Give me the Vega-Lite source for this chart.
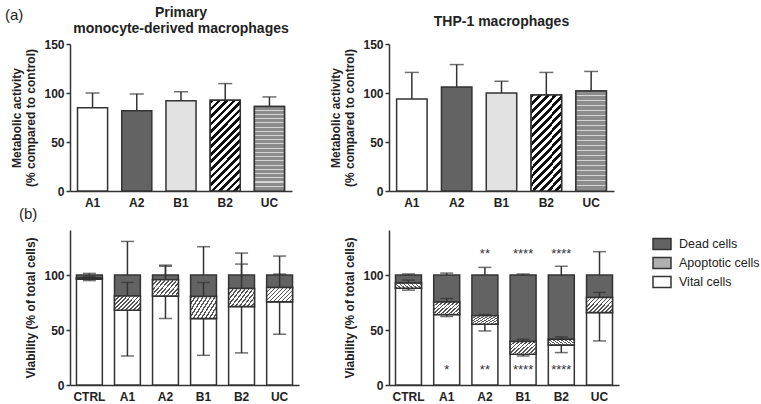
{
  "$schema": "https://vega.github.io/schema/vega-lite/v6.json",
  "padding": {"left": 4, "top": 6, "right": 5, "bottom": 2},
  "background": "white",
  "config": {
    "font": "Liberation Sans",
    "view": {"stroke": null},
    "axis": {"domainColor": "#333", "domainWidth": 1.5, "tickColor": "#333", "tickWidth": 1.5, "labelFont": "Liberation Sans", "labelFontWeight": "bold", "labelFontSize": 12, "labelColor": "#222", "titleFont": "Liberation Sans", "titleFontWeight": "bold", "titleFontSize": 12, "titleColor": "#222", "grid": false},
    "axisX": {"ticks": false, "labelPadding": 6, "labelAngle": 0, "title": null},
    "axisY": {"tickSize": 4, "labelPadding": 2, "titlePadding": 6},
    "title": {"font": "Liberation Sans", "fontSize": 14, "fontWeight": "bold", "color": "#222"},
    "legend": {"symbolStrokeColor": "#333", "symbolStrokeWidth": 1.5}
  },
  "datasets": {
    "top": [
      {"panel": "primary", "cond": "A1", "value": 85, "err": 100},
      {"panel": "primary", "cond": "A2", "value": 82, "err": 99},
      {"panel": "primary", "cond": "B1", "value": 92, "err": 101.3},
      {"panel": "primary", "cond": "B2", "value": 92.5, "err": 109.6},
      {"panel": "primary", "cond": "UC", "value": 86.3, "err": 96},
      {"panel": "thp1", "cond": "A1", "value": 94, "err": 121},
      {"panel": "thp1", "cond": "A2", "value": 106, "err": 129},
      {"panel": "thp1", "cond": "B1", "value": 100, "err": 112},
      {"panel": "thp1", "cond": "B2", "value": 98, "err": 121},
      {"panel": "thp1", "cond": "UC", "value": 102, "err": 122}
    ],
    "bottom": [
      {"panel": "primary", "cond": "CTRL", "type": "Vital cells", "lo": 0, "hi": 96.3, "err": 95},
      {"panel": "primary", "cond": "CTRL", "type": "Apoptotic cells", "lo": 96.3, "hi": 97.3, "err": 98.5},
      {"panel": "primary", "cond": "CTRL", "type": "Dead cells", "lo": 97.3, "hi": 100, "err": 101.5},
      {"panel": "primary", "cond": "A1", "type": "Vital cells", "lo": 0, "hi": 68, "err": 26.4},
      {"panel": "primary", "cond": "A1", "type": "Apoptotic cells", "lo": 68, "hi": 81, "err": 93.3},
      {"panel": "primary", "cond": "A1", "type": "Dead cells", "lo": 81, "hi": 100, "err": 130.6},
      {"panel": "primary", "cond": "A2", "type": "Vital cells", "lo": 0, "hi": 81, "err": 60.5},
      {"panel": "primary", "cond": "A2", "type": "Apoptotic cells", "lo": 81, "hi": 95.7, "err": 108},
      {"panel": "primary", "cond": "A2", "type": "Dead cells", "lo": 95.7, "hi": 100, "err": 109},
      {"panel": "primary", "cond": "B1", "type": "Vital cells", "lo": 0, "hi": 60.5, "err": 27},
      {"panel": "primary", "cond": "B1", "type": "Apoptotic cells", "lo": 60.5, "hi": 80.5, "err": 93.3},
      {"panel": "primary", "cond": "B1", "type": "Dead cells", "lo": 80.5, "hi": 100, "err": 125.8},
      {"panel": "primary", "cond": "B2", "type": "Vital cells", "lo": 0, "hi": 71.4, "err": 29.2},
      {"panel": "primary", "cond": "B2", "type": "Apoptotic cells", "lo": 71.4, "hi": 87.8, "err": 110},
      {"panel": "primary", "cond": "B2", "type": "Dead cells", "lo": 87.8, "hi": 100, "err": 120},
      {"panel": "primary", "cond": "UC", "type": "Vital cells", "lo": 0, "hi": 75.7, "err": 46.2},
      {"panel": "primary", "cond": "UC", "type": "Apoptotic cells", "lo": 75.7, "hi": 88.7, "err": 100.9},
      {"panel": "primary", "cond": "UC", "type": "Dead cells", "lo": 88.7, "hi": 100, "err": 117.3},
      {"panel": "thp1", "cond": "CTRL", "type": "Vital cells", "lo": 0, "hi": 88.1, "err": 86.3},
      {"panel": "thp1", "cond": "CTRL", "type": "Apoptotic cells", "lo": 88.1, "hi": 92.7, "err": 95.4},
      {"panel": "thp1", "cond": "CTRL", "type": "Dead cells", "lo": 92.7, "hi": 100, "err": 101},
      {"panel": "thp1", "cond": "A1", "type": "Vital cells", "lo": 0, "hi": 64.1, "err": 62.3},
      {"panel": "thp1", "cond": "A1", "type": "Apoptotic cells", "lo": 64.1, "hi": 75.4, "err": 78.7},
      {"panel": "thp1", "cond": "A1", "type": "Dead cells", "lo": 75.4, "hi": 100, "err": 101.8},
      {"panel": "thp1", "cond": "A2", "type": "Vital cells", "lo": 0, "hi": 55.3, "err": 49.2},
      {"panel": "thp1", "cond": "A2", "type": "Apoptotic cells", "lo": 55.3, "hi": 62.9, "err": 64.1},
      {"panel": "thp1", "cond": "A2", "type": "Dead cells", "lo": 62.9, "hi": 100, "err": 107},
      {"panel": "thp1", "cond": "B1", "type": "Vital cells", "lo": 0, "hi": 28, "err": 26.4},
      {"panel": "thp1", "cond": "B1", "type": "Apoptotic cells", "lo": 28, "hi": 39.5, "err": 41.6},
      {"panel": "thp1", "cond": "B1", "type": "Dead cells", "lo": 39.5, "hi": 100, "err": 101},
      {"panel": "thp1", "cond": "B2", "type": "Vital cells", "lo": 0, "hi": 36.5, "err": 29.5},
      {"panel": "thp1", "cond": "B2", "type": "Apoptotic cells", "lo": 36.5, "hi": 41.6, "err": 43.8},
      {"panel": "thp1", "cond": "B2", "type": "Dead cells", "lo": 41.6, "hi": 100, "err": 108},
      {"panel": "thp1", "cond": "UC", "type": "Vital cells", "lo": 0, "hi": 66, "err": 40.1},
      {"panel": "thp1", "cond": "UC", "type": "Apoptotic cells", "lo": 66, "hi": 79.6, "err": 84.2},
      {"panel": "thp1", "cond": "UC", "type": "Dead cells", "lo": 79.6, "hi": 100, "err": 121.3}
    ],
    "stars": [
      {"cond": "A1", "pos": "below", "label": "*"},
      {"cond": "A2", "pos": "above", "label": "**"},
      {"cond": "A2", "pos": "below", "label": "**"},
      {"cond": "B1", "pos": "above", "label": "****"},
      {"cond": "B1", "pos": "below", "label": "****"},
      {"cond": "B2", "pos": "above", "label": "****"},
      {"cond": "B2", "pos": "below", "label": "****"}
    ]
  },
  "title": {"text": "(a)", "anchor": "start", "frame": "bounds", "fontSize": 15, "fontWeight": "normal", "offset": -17, "dx": -6},
  "columns": 2,
  "bounds": "flush",
  "spacing": {"row": 39, "column": 90},
  "resolve": {"scale": {"fill": "independent", "x": "independent", "y": "independent"}, "axis": {"x": "independent", "y": "independent"}, "legend": {"fill": "independent"}},
  "concat": [
    {
      "width": 222, "height": 147,
      "title": {"text": ["Primary", "monocyte-derived macrophages"], "offset": 2, "frame": "group"},
      "data": {"name": "top"},
      "transform": [{"filter": "datum.panel === 'primary'"}],
      "encoding": {
        "x": {"field": "cond", "type": "nominal", "sort": ["A1", "A2", "B1", "B2", "UC"], "scale": {"paddingInner": 0.32, "paddingOuter": 0.17}, "axis": {"title": null}},
        "y": {"field": "value", "type": "quantitative", "scale": {"domain": [0, 150], "nice": false}, "axis": {"values": [0, 50, 100, 150], "title": ["Metabolic activity", "(% compared to control)"]}}
      },
      "layer": [
        {"mark": {"type": "bar", "stroke": "#333", "strokeWidth": 1.5},
         "encoding": {"fill": {"field": "cond", "type": "nominal", "legend": null, "scale": {"domain": ["A1", "A2", "B1", "B2", "UC"], "range": ["#ffffff", "#636363", "#e2e2e2", "#ffffff", "#ffffff"]}}}},
        {"transform": [{"filter": "datum.cond === 'B2'"}],
         "mark": {"type": "bar", "stroke": "#333", "strokeWidth": 1.5,
           "fill": {"gradient": "linear", "x1": 0, "y1": 0, "x2": 0.4, "y2": 1.2, "stops": [
               {"offset": 0, "color": "#111"}, {"offset": 0.03125, "color": "#111"}, {"offset": 0.03125, "color": "#fff"}, {"offset": 0.0625, "color": "#fff"},
               {"offset": 0.0625, "color": "#111"}, {"offset": 0.09375, "color": "#111"}, {"offset": 0.09375, "color": "#fff"}, {"offset": 0.125, "color": "#fff"},
               {"offset": 0.125, "color": "#111"}, {"offset": 0.15625, "color": "#111"}, {"offset": 0.15625, "color": "#fff"}, {"offset": 0.1875, "color": "#fff"},
               {"offset": 0.1875, "color": "#111"}, {"offset": 0.21875, "color": "#111"}, {"offset": 0.21875, "color": "#fff"}, {"offset": 0.25, "color": "#fff"},
               {"offset": 0.25, "color": "#111"}, {"offset": 0.28125, "color": "#111"}, {"offset": 0.28125, "color": "#fff"}, {"offset": 0.3125, "color": "#fff"},
               {"offset": 0.3125, "color": "#111"}, {"offset": 0.34375, "color": "#111"}, {"offset": 0.34375, "color": "#fff"}, {"offset": 0.375, "color": "#fff"},
               {"offset": 0.375, "color": "#111"}, {"offset": 0.40625, "color": "#111"}, {"offset": 0.40625, "color": "#fff"}, {"offset": 0.4375, "color": "#fff"},
               {"offset": 0.4375, "color": "#111"}, {"offset": 0.46875, "color": "#111"}, {"offset": 0.46875, "color": "#fff"}, {"offset": 0.5, "color": "#fff"},
               {"offset": 0.5, "color": "#111"}, {"offset": 0.53125, "color": "#111"}, {"offset": 0.53125, "color": "#fff"}, {"offset": 0.5625, "color": "#fff"},
               {"offset": 0.5625, "color": "#111"}, {"offset": 0.59375, "color": "#111"}, {"offset": 0.59375, "color": "#fff"}, {"offset": 0.625, "color": "#fff"},
               {"offset": 0.625, "color": "#111"}, {"offset": 0.65625, "color": "#111"}, {"offset": 0.65625, "color": "#fff"}, {"offset": 0.6875, "color": "#fff"},
               {"offset": 0.6875, "color": "#111"}, {"offset": 0.71875, "color": "#111"}, {"offset": 0.71875, "color": "#fff"}, {"offset": 0.75, "color": "#fff"},
               {"offset": 0.75, "color": "#111"}, {"offset": 0.78125, "color": "#111"}, {"offset": 0.78125, "color": "#fff"}, {"offset": 0.8125, "color": "#fff"},
               {"offset": 0.8125, "color": "#111"}, {"offset": 0.84375, "color": "#111"}, {"offset": 0.84375, "color": "#fff"}, {"offset": 0.875, "color": "#fff"},
               {"offset": 0.875, "color": "#111"}, {"offset": 0.90625, "color": "#111"}, {"offset": 0.90625, "color": "#fff"}, {"offset": 0.9375, "color": "#fff"},
               {"offset": 0.9375, "color": "#111"}, {"offset": 0.96875, "color": "#111"}, {"offset": 0.96875, "color": "#fff"}, {"offset": 1, "color": "#fff"}
             ]}}},
        {"transform": [{"filter": "datum.cond === 'UC'"}],
         "mark": {"type": "bar", "stroke": "#333", "strokeWidth": 1.5,
           "fill": {"gradient": "linear", "x1": 0, "y1": 0, "x2": 0, "y2": 1, "stops": [
               {"offset": 0, "color": "#8c8c8c"}, {"offset": 0.0375, "color": "#8c8c8c"}, {"offset": 0.0375, "color": "#d4d4d4"}, {"offset": 0.05, "color": "#d4d4d4"},
               {"offset": 0.05, "color": "#8c8c8c"}, {"offset": 0.0875, "color": "#8c8c8c"}, {"offset": 0.0875, "color": "#d4d4d4"}, {"offset": 0.1, "color": "#d4d4d4"},
               {"offset": 0.1, "color": "#8c8c8c"}, {"offset": 0.1375, "color": "#8c8c8c"}, {"offset": 0.1375, "color": "#d4d4d4"}, {"offset": 0.15, "color": "#d4d4d4"},
               {"offset": 0.15, "color": "#8c8c8c"}, {"offset": 0.1875, "color": "#8c8c8c"}, {"offset": 0.1875, "color": "#d4d4d4"}, {"offset": 0.2, "color": "#d4d4d4"},
               {"offset": 0.2, "color": "#8c8c8c"}, {"offset": 0.2375, "color": "#8c8c8c"}, {"offset": 0.2375, "color": "#d4d4d4"}, {"offset": 0.25, "color": "#d4d4d4"},
               {"offset": 0.25, "color": "#8c8c8c"}, {"offset": 0.2875, "color": "#8c8c8c"}, {"offset": 0.2875, "color": "#d4d4d4"}, {"offset": 0.3, "color": "#d4d4d4"},
               {"offset": 0.3, "color": "#8c8c8c"}, {"offset": 0.3375, "color": "#8c8c8c"}, {"offset": 0.3375, "color": "#d4d4d4"}, {"offset": 0.35, "color": "#d4d4d4"},
               {"offset": 0.35, "color": "#8c8c8c"}, {"offset": 0.3875, "color": "#8c8c8c"}, {"offset": 0.3875, "color": "#d4d4d4"}, {"offset": 0.4, "color": "#d4d4d4"},
               {"offset": 0.4, "color": "#8c8c8c"}, {"offset": 0.4375, "color": "#8c8c8c"}, {"offset": 0.4375, "color": "#d4d4d4"}, {"offset": 0.45, "color": "#d4d4d4"},
               {"offset": 0.45, "color": "#8c8c8c"}, {"offset": 0.4875, "color": "#8c8c8c"}, {"offset": 0.4875, "color": "#d4d4d4"}, {"offset": 0.5, "color": "#d4d4d4"},
               {"offset": 0.5, "color": "#8c8c8c"}, {"offset": 0.5375, "color": "#8c8c8c"}, {"offset": 0.5375, "color": "#d4d4d4"}, {"offset": 0.55, "color": "#d4d4d4"},
               {"offset": 0.55, "color": "#8c8c8c"}, {"offset": 0.5875, "color": "#8c8c8c"}, {"offset": 0.5875, "color": "#d4d4d4"}, {"offset": 0.6, "color": "#d4d4d4"},
               {"offset": 0.6, "color": "#8c8c8c"}, {"offset": 0.6375, "color": "#8c8c8c"}, {"offset": 0.6375, "color": "#d4d4d4"}, {"offset": 0.65, "color": "#d4d4d4"},
               {"offset": 0.65, "color": "#8c8c8c"}, {"offset": 0.6875, "color": "#8c8c8c"}, {"offset": 0.6875, "color": "#d4d4d4"}, {"offset": 0.7, "color": "#d4d4d4"},
               {"offset": 0.7, "color": "#8c8c8c"}, {"offset": 0.7375, "color": "#8c8c8c"}, {"offset": 0.7375, "color": "#d4d4d4"}, {"offset": 0.75, "color": "#d4d4d4"},
               {"offset": 0.75, "color": "#8c8c8c"}, {"offset": 0.7875, "color": "#8c8c8c"}, {"offset": 0.7875, "color": "#d4d4d4"}, {"offset": 0.8, "color": "#d4d4d4"},
               {"offset": 0.8, "color": "#8c8c8c"}, {"offset": 0.8375, "color": "#8c8c8c"}, {"offset": 0.8375, "color": "#d4d4d4"}, {"offset": 0.85, "color": "#d4d4d4"},
               {"offset": 0.85, "color": "#8c8c8c"}, {"offset": 0.8875, "color": "#8c8c8c"}, {"offset": 0.8875, "color": "#d4d4d4"}, {"offset": 0.9, "color": "#d4d4d4"},
               {"offset": 0.9, "color": "#8c8c8c"}, {"offset": 0.9375, "color": "#8c8c8c"}, {"offset": 0.9375, "color": "#d4d4d4"}, {"offset": 0.95, "color": "#d4d4d4"},
               {"offset": 0.95, "color": "#8c8c8c"}, {"offset": 0.9875, "color": "#8c8c8c"}, {"offset": 0.9875, "color": "#d4d4d4"}, {"offset": 1, "color": "#d4d4d4"}
             ]}}},
        {"mark": {"type": "rule", "color": "#333", "strokeWidth": 1.5}, "encoding": {"y2": {"field": "err"}}},
        {"mark": {"type": "tick", "color": "#333", "thickness": 1.5, "size": 14}, "encoding": {"y": {"field": "err", "type": "quantitative"}}}
      ]
    },
    {
      "width": 225, "height": 147,
      "title": {"text": "THP-1 macrophages", "offset": 9, "frame": "group"},
      "data": {"name": "top"},
      "transform": [{"filter": "datum.panel === 'thp1'"}],
      "encoding": {
        "x": {"field": "cond", "type": "nominal", "sort": ["A1", "A2", "B1", "B2", "UC"], "scale": {"paddingInner": 0.32, "paddingOuter": 0.17}, "axis": {"title": null}},
        "y": {"field": "value", "type": "quantitative", "scale": {"domain": [0, 150], "nice": false}, "axis": {"values": [0, 50, 100, 150], "title": ["Metabolic activity", "(% compared to control)"]}}
      },
      "layer": [
        {"mark": {"type": "bar", "stroke": "#333", "strokeWidth": 1.5},
         "encoding": {"fill": {"field": "cond", "type": "nominal", "legend": null, "scale": {"domain": ["A1", "A2", "B1", "B2", "UC"], "range": ["#ffffff", "#636363", "#e2e2e2", "#ffffff", "#ffffff"]}}}},
        {"transform": [{"filter": "datum.cond === 'B2'"}],
         "mark": {"type": "bar", "stroke": "#333", "strokeWidth": 1.5,
           "fill": {"gradient": "linear", "x1": 0, "y1": 0, "x2": 0.4, "y2": 1.2, "stops": [
               {"offset": 0, "color": "#111"}, {"offset": 0.03125, "color": "#111"}, {"offset": 0.03125, "color": "#fff"}, {"offset": 0.0625, "color": "#fff"},
               {"offset": 0.0625, "color": "#111"}, {"offset": 0.09375, "color": "#111"}, {"offset": 0.09375, "color": "#fff"}, {"offset": 0.125, "color": "#fff"},
               {"offset": 0.125, "color": "#111"}, {"offset": 0.15625, "color": "#111"}, {"offset": 0.15625, "color": "#fff"}, {"offset": 0.1875, "color": "#fff"},
               {"offset": 0.1875, "color": "#111"}, {"offset": 0.21875, "color": "#111"}, {"offset": 0.21875, "color": "#fff"}, {"offset": 0.25, "color": "#fff"},
               {"offset": 0.25, "color": "#111"}, {"offset": 0.28125, "color": "#111"}, {"offset": 0.28125, "color": "#fff"}, {"offset": 0.3125, "color": "#fff"},
               {"offset": 0.3125, "color": "#111"}, {"offset": 0.34375, "color": "#111"}, {"offset": 0.34375, "color": "#fff"}, {"offset": 0.375, "color": "#fff"},
               {"offset": 0.375, "color": "#111"}, {"offset": 0.40625, "color": "#111"}, {"offset": 0.40625, "color": "#fff"}, {"offset": 0.4375, "color": "#fff"},
               {"offset": 0.4375, "color": "#111"}, {"offset": 0.46875, "color": "#111"}, {"offset": 0.46875, "color": "#fff"}, {"offset": 0.5, "color": "#fff"},
               {"offset": 0.5, "color": "#111"}, {"offset": 0.53125, "color": "#111"}, {"offset": 0.53125, "color": "#fff"}, {"offset": 0.5625, "color": "#fff"},
               {"offset": 0.5625, "color": "#111"}, {"offset": 0.59375, "color": "#111"}, {"offset": 0.59375, "color": "#fff"}, {"offset": 0.625, "color": "#fff"},
               {"offset": 0.625, "color": "#111"}, {"offset": 0.65625, "color": "#111"}, {"offset": 0.65625, "color": "#fff"}, {"offset": 0.6875, "color": "#fff"},
               {"offset": 0.6875, "color": "#111"}, {"offset": 0.71875, "color": "#111"}, {"offset": 0.71875, "color": "#fff"}, {"offset": 0.75, "color": "#fff"},
               {"offset": 0.75, "color": "#111"}, {"offset": 0.78125, "color": "#111"}, {"offset": 0.78125, "color": "#fff"}, {"offset": 0.8125, "color": "#fff"},
               {"offset": 0.8125, "color": "#111"}, {"offset": 0.84375, "color": "#111"}, {"offset": 0.84375, "color": "#fff"}, {"offset": 0.875, "color": "#fff"},
               {"offset": 0.875, "color": "#111"}, {"offset": 0.90625, "color": "#111"}, {"offset": 0.90625, "color": "#fff"}, {"offset": 0.9375, "color": "#fff"},
               {"offset": 0.9375, "color": "#111"}, {"offset": 0.96875, "color": "#111"}, {"offset": 0.96875, "color": "#fff"}, {"offset": 1, "color": "#fff"}
             ]}}},
        {"transform": [{"filter": "datum.cond === 'UC'"}],
         "mark": {"type": "bar", "stroke": "#333", "strokeWidth": 1.5,
           "fill": {"gradient": "linear", "x1": 0, "y1": 0, "x2": 0, "y2": 1, "stops": [
               {"offset": 0, "color": "#8c8c8c"}, {"offset": 0.0375, "color": "#8c8c8c"}, {"offset": 0.0375, "color": "#d4d4d4"}, {"offset": 0.05, "color": "#d4d4d4"},
               {"offset": 0.05, "color": "#8c8c8c"}, {"offset": 0.0875, "color": "#8c8c8c"}, {"offset": 0.0875, "color": "#d4d4d4"}, {"offset": 0.1, "color": "#d4d4d4"},
               {"offset": 0.1, "color": "#8c8c8c"}, {"offset": 0.1375, "color": "#8c8c8c"}, {"offset": 0.1375, "color": "#d4d4d4"}, {"offset": 0.15, "color": "#d4d4d4"},
               {"offset": 0.15, "color": "#8c8c8c"}, {"offset": 0.1875, "color": "#8c8c8c"}, {"offset": 0.1875, "color": "#d4d4d4"}, {"offset": 0.2, "color": "#d4d4d4"},
               {"offset": 0.2, "color": "#8c8c8c"}, {"offset": 0.2375, "color": "#8c8c8c"}, {"offset": 0.2375, "color": "#d4d4d4"}, {"offset": 0.25, "color": "#d4d4d4"},
               {"offset": 0.25, "color": "#8c8c8c"}, {"offset": 0.2875, "color": "#8c8c8c"}, {"offset": 0.2875, "color": "#d4d4d4"}, {"offset": 0.3, "color": "#d4d4d4"},
               {"offset": 0.3, "color": "#8c8c8c"}, {"offset": 0.3375, "color": "#8c8c8c"}, {"offset": 0.3375, "color": "#d4d4d4"}, {"offset": 0.35, "color": "#d4d4d4"},
               {"offset": 0.35, "color": "#8c8c8c"}, {"offset": 0.3875, "color": "#8c8c8c"}, {"offset": 0.3875, "color": "#d4d4d4"}, {"offset": 0.4, "color": "#d4d4d4"},
               {"offset": 0.4, "color": "#8c8c8c"}, {"offset": 0.4375, "color": "#8c8c8c"}, {"offset": 0.4375, "color": "#d4d4d4"}, {"offset": 0.45, "color": "#d4d4d4"},
               {"offset": 0.45, "color": "#8c8c8c"}, {"offset": 0.4875, "color": "#8c8c8c"}, {"offset": 0.4875, "color": "#d4d4d4"}, {"offset": 0.5, "color": "#d4d4d4"},
               {"offset": 0.5, "color": "#8c8c8c"}, {"offset": 0.5375, "color": "#8c8c8c"}, {"offset": 0.5375, "color": "#d4d4d4"}, {"offset": 0.55, "color": "#d4d4d4"},
               {"offset": 0.55, "color": "#8c8c8c"}, {"offset": 0.5875, "color": "#8c8c8c"}, {"offset": 0.5875, "color": "#d4d4d4"}, {"offset": 0.6, "color": "#d4d4d4"},
               {"offset": 0.6, "color": "#8c8c8c"}, {"offset": 0.6375, "color": "#8c8c8c"}, {"offset": 0.6375, "color": "#d4d4d4"}, {"offset": 0.65, "color": "#d4d4d4"},
               {"offset": 0.65, "color": "#8c8c8c"}, {"offset": 0.6875, "color": "#8c8c8c"}, {"offset": 0.6875, "color": "#d4d4d4"}, {"offset": 0.7, "color": "#d4d4d4"},
               {"offset": 0.7, "color": "#8c8c8c"}, {"offset": 0.7375, "color": "#8c8c8c"}, {"offset": 0.7375, "color": "#d4d4d4"}, {"offset": 0.75, "color": "#d4d4d4"},
               {"offset": 0.75, "color": "#8c8c8c"}, {"offset": 0.7875, "color": "#8c8c8c"}, {"offset": 0.7875, "color": "#d4d4d4"}, {"offset": 0.8, "color": "#d4d4d4"},
               {"offset": 0.8, "color": "#8c8c8c"}, {"offset": 0.8375, "color": "#8c8c8c"}, {"offset": 0.8375, "color": "#d4d4d4"}, {"offset": 0.85, "color": "#d4d4d4"},
               {"offset": 0.85, "color": "#8c8c8c"}, {"offset": 0.8875, "color": "#8c8c8c"}, {"offset": 0.8875, "color": "#d4d4d4"}, {"offset": 0.9, "color": "#d4d4d4"},
               {"offset": 0.9, "color": "#8c8c8c"}, {"offset": 0.9375, "color": "#8c8c8c"}, {"offset": 0.9375, "color": "#d4d4d4"}, {"offset": 0.95, "color": "#d4d4d4"},
               {"offset": 0.95, "color": "#8c8c8c"}, {"offset": 0.9875, "color": "#8c8c8c"}, {"offset": 0.9875, "color": "#d4d4d4"}, {"offset": 1, "color": "#d4d4d4"}
             ]}}},
        {"mark": {"type": "rule", "color": "#333", "strokeWidth": 1.5}, "encoding": {"y2": {"field": "err"}}},
        {"mark": {"type": "tick", "color": "#333", "thickness": 1.5, "size": 14}, "encoding": {"y": {"field": "err", "type": "quantitative"}}}
      ]
    },
    {
      "width": 229, "height": 155,
      "title": {"text": "(b)", "anchor": "start", "frame": "bounds", "fontSize": 15, "fontWeight": "normal", "offset": 8, "dx": -6},
      "data": {"name": "bottom"},
      "transform": [{"filter": "datum.panel === 'primary'"}],
      "encoding": {
        "x": {"field": "cond", "type": "nominal", "sort": ["CTRL", "A1", "A2", "B1", "B2", "UC"], "scale": {"paddingInner": 0.32, "paddingOuter": 0.17}, "axis": {"title": null}},
        "y": {"field": "lo", "type": "quantitative", "scale": {"domain": [0, 141], "nice": false}, "axis": {"values": [0, 50, 100], "title": "Viability (% of total cells)"}}
      },
      "layer": [
        {"mark": {"type": "bar", "stroke": "#333", "strokeWidth": 1.5},
         "encoding": {
           "y2": {"field": "hi"},
           "fill": {"field": "type", "type": "nominal", "legend": null, "scale": {"domain": ["Dead cells", "Apoptotic cells", "Vital cells"], "range": ["#636363", "#b0b0b0", "#ffffff"]}}
         }},
        {"transform": [{"filter": "datum.type === 'Apoptotic cells'"}],
         "mark": {"type": "bar", "stroke": "#333", "strokeWidth": 1.5,
           "fill": {"gradient": "linear", "x1": 0, "y1": 0, "x2": 1.19, "y2": 0.64, "stops": [
               {"offset": 0, "color": "#555"}, {"offset": 0.04, "color": "#555"}, {"offset": 0.04, "color": "#fff"}, {"offset": 0.1, "color": "#fff"},
               {"offset": 0.1, "color": "#555"}, {"offset": 0.14, "color": "#555"}, {"offset": 0.14, "color": "#fff"}, {"offset": 0.2, "color": "#fff"},
               {"offset": 0.2, "color": "#555"}, {"offset": 0.24, "color": "#555"}, {"offset": 0.24, "color": "#fff"}, {"offset": 0.3, "color": "#fff"},
               {"offset": 0.3, "color": "#555"}, {"offset": 0.34, "color": "#555"}, {"offset": 0.34, "color": "#fff"}, {"offset": 0.4, "color": "#fff"},
               {"offset": 0.4, "color": "#555"}, {"offset": 0.44, "color": "#555"}, {"offset": 0.44, "color": "#fff"}, {"offset": 0.5, "color": "#fff"},
               {"offset": 0.5, "color": "#555"}, {"offset": 0.54, "color": "#555"}, {"offset": 0.54, "color": "#fff"}, {"offset": 0.6, "color": "#fff"},
               {"offset": 0.6, "color": "#555"}, {"offset": 0.64, "color": "#555"}, {"offset": 0.64, "color": "#fff"}, {"offset": 0.7, "color": "#fff"},
               {"offset": 0.7, "color": "#555"}, {"offset": 0.74, "color": "#555"}, {"offset": 0.74, "color": "#fff"}, {"offset": 0.8, "color": "#fff"},
               {"offset": 0.8, "color": "#555"}, {"offset": 0.84, "color": "#555"}, {"offset": 0.84, "color": "#fff"}, {"offset": 0.9, "color": "#fff"},
               {"offset": 0.9, "color": "#555"}, {"offset": 0.94, "color": "#555"}, {"offset": 0.94, "color": "#fff"}, {"offset": 1, "color": "#fff"}
             ]}},
         "encoding": {"y2": {"field": "hi"}}},
        {"mark": {"type": "rule", "color": "#333", "strokeWidth": 1.5}, "encoding": {"y": {"field": "hi", "type": "quantitative"}, "y2": {"field": "err"}}},
        {"mark": {"type": "tick", "color": "#333", "thickness": 1.5, "size": 13}, "encoding": {"y": {"field": "err", "type": "quantitative"}}}
      ]
    },
    {
      "width": 230, "height": 155,
      "encoding": {
        "x": {"field": "cond", "type": "nominal", "sort": ["CTRL", "A1", "A2", "B1", "B2", "UC"], "scale": {"domain": ["CTRL", "A1", "A2", "B1", "B2", "UC"], "paddingInner": 0.32, "paddingOuter": 0.17}, "axis": {"title": null}}
      },
      "layer": [
        {"data": {"name": "bottom"},
         "transform": [{"filter": "datum.panel === 'thp1'"}],
         "mark": {"type": "bar", "stroke": "#333", "strokeWidth": 1.5},
         "encoding": {
           "y": {"field": "lo", "type": "quantitative", "scale": {"domain": [0, 141], "nice": false}, "axis": {"values": [0, 50, 100], "title": "Viability (% of total cells)"}},
           "y2": {"field": "hi"},
           "fill": {"field": "type", "type": "nominal", "scale": {"domain": ["Dead cells", "Apoptotic cells", "Vital cells"], "range": ["#636363", "#b0b0b0", "#ffffff"]},
             "legend": {"title": null, "orient": "right", "offset": 29, "padding": 4, "symbolType": "M-1,-0.6H1V0.6H-1Z", "symbolSize": 324, "symbolStrokeColor": "#333", "symbolStrokeWidth": 1.5, "symbolOpacity": 1, "labelFontSize": 12.5, "labelFont": "Liberation Sans", "labelColor": "#222", "labelOffset": 7, "rowPadding": 0}}
         }},
        {"data": {"name": "bottom"},
         "transform": [{"filter": "datum.panel === 'thp1' && datum.type === 'Apoptotic cells'"}],
         "mark": {"type": "bar", "stroke": "#333", "strokeWidth": 1.5,
           "fill": {"gradient": "linear", "x1": 0, "y1": 0, "x2": 1.19, "y2": 0.64, "stops": [
               {"offset": 0, "color": "#555"}, {"offset": 0.04, "color": "#555"}, {"offset": 0.04, "color": "#fff"}, {"offset": 0.1, "color": "#fff"},
               {"offset": 0.1, "color": "#555"}, {"offset": 0.14, "color": "#555"}, {"offset": 0.14, "color": "#fff"}, {"offset": 0.2, "color": "#fff"},
               {"offset": 0.2, "color": "#555"}, {"offset": 0.24, "color": "#555"}, {"offset": 0.24, "color": "#fff"}, {"offset": 0.3, "color": "#fff"},
               {"offset": 0.3, "color": "#555"}, {"offset": 0.34, "color": "#555"}, {"offset": 0.34, "color": "#fff"}, {"offset": 0.4, "color": "#fff"},
               {"offset": 0.4, "color": "#555"}, {"offset": 0.44, "color": "#555"}, {"offset": 0.44, "color": "#fff"}, {"offset": 0.5, "color": "#fff"},
               {"offset": 0.5, "color": "#555"}, {"offset": 0.54, "color": "#555"}, {"offset": 0.54, "color": "#fff"}, {"offset": 0.6, "color": "#fff"},
               {"offset": 0.6, "color": "#555"}, {"offset": 0.64, "color": "#555"}, {"offset": 0.64, "color": "#fff"}, {"offset": 0.7, "color": "#fff"},
               {"offset": 0.7, "color": "#555"}, {"offset": 0.74, "color": "#555"}, {"offset": 0.74, "color": "#fff"}, {"offset": 0.8, "color": "#fff"},
               {"offset": 0.8, "color": "#555"}, {"offset": 0.84, "color": "#555"}, {"offset": 0.84, "color": "#fff"}, {"offset": 0.9, "color": "#fff"},
               {"offset": 0.9, "color": "#555"}, {"offset": 0.94, "color": "#555"}, {"offset": 0.94, "color": "#fff"}, {"offset": 1, "color": "#fff"}
             ]}},
         "encoding": {"y": {"field": "lo", "type": "quantitative"}, "y2": {"field": "hi"}}},
        {"data": {"name": "bottom"},
         "transform": [{"filter": "datum.panel === 'thp1'"}],
         "mark": {"type": "rule", "color": "#333", "strokeWidth": 1.5}, "encoding": {"y": {"field": "hi", "type": "quantitative"}, "y2": {"field": "err"}}},
        {"data": {"name": "bottom"},
         "transform": [{"filter": "datum.panel === 'thp1'"}],
         "mark": {"type": "tick", "color": "#333", "thickness": 1.5, "size": 13}, "encoding": {"y": {"field": "err", "type": "quantitative"}}},
        {"data": {"name": "stars"},
         "transform": [{"filter": "datum.pos === 'above'"}],
         "mark": {"type": "text", "fontSize": 13, "color": "#333", "baseline": "alphabetic", "dy": 6},
         "encoding": {"text": {"field": "label"}, "y": {"datum": 120.7}}},
        {"data": {"name": "stars"},
         "transform": [{"filter": "datum.pos === 'below'"}],
         "mark": {"type": "text", "fontSize": 13, "color": "#333", "baseline": "alphabetic", "dy": 6},
         "encoding": {"text": {"field": "label"}, "y": {"datum": 15.8}}}
      ]
    }
  ]
}
